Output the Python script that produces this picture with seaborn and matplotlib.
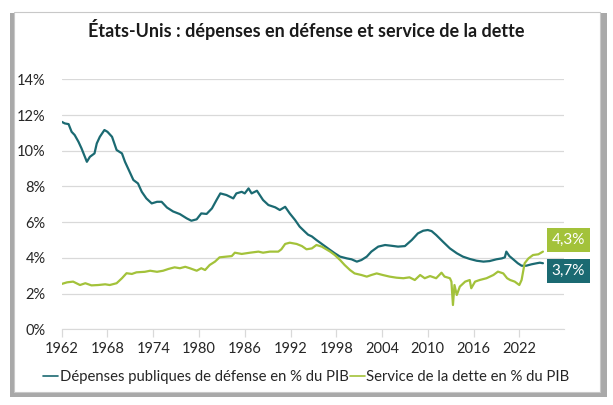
import numpy as np
import pandas as pd
import matplotlib.pyplot as plt
import matplotlib as mpl
import seaborn as sns
from matplotlib.patches import Rectangle

sns.set_style('white')
mpl.rcParams['font.family'] = ['Lato', 'DejaVu Sans']

# valeurs (% du PIB)
defense_years = [1962.0, 1962.4, 1962.9, 1963.3, 1963.7, 1964.2, 1964.6, 1965.3, 1965.7, 1966.3,
                 1966.6, 1967.0, 1967.6, 1968.0, 1968.6, 1969.2, 1969.9, 1970.3, 1970.7, 1971.4,
                 1972.0, 1972.5, 1973.1, 1973.8, 1974.5, 1975.1, 1975.8, 1976.6, 1977.5, 1978.4,
                 1979.0, 1979.7, 1980.3, 1981.0, 1981.7, 1982.3, 1982.8, 1983.6, 1984.5, 1984.9,
                 1985.6, 1986.0, 1986.5, 1986.9, 1987.6, 1988.4, 1989.1, 1990.0, 1990.6, 1991.3,
                 1991.9, 1992.6, 1993.2, 1993.9, 1994.3, 1994.8, 1995.4, 1996.3, 1997.2, 1997.8,
                 1998.5, 1999.4, 2000.0, 2000.7, 2001.3, 2002.0, 2002.6, 2003.5, 2004.4, 2005.2,
                 2006.1, 2007.0, 2007.9, 2008.7, 2009.4, 2010.0, 2010.5, 2011.1, 2012.0, 2012.9,
                 2013.8, 2014.6, 2015.5, 2016.4, 2017.3, 2018.1, 2019.0, 2019.7, 2020.1, 2020.3,
                 2020.7, 2021.2, 2021.8, 2022.3, 2022.9, 2023.6, 2024.3, 2024.7, 2025.1]
defense = [11.62, 11.53, 11.49, 11.06, 10.88, 10.5, 10.13, 9.38, 9.66, 9.85,
           10.41, 10.78, 11.16, 11.06, 10.78, 10.04, 9.85, 9.38, 9.01, 8.36,
           8.17, 7.7, 7.33, 7.05, 7.14, 7.14, 6.82, 6.6, 6.45, 6.21,
           6.08, 6.16, 6.49, 6.46, 6.77, 7.24, 7.61, 7.52, 7.33, 7.61,
           7.7, 7.61, 7.89, 7.61, 7.76, 7.24, 6.96, 6.83, 6.68, 6.86,
           6.49, 6.12, 5.75, 5.46, 5.3, 5.2, 5.0, 4.72, 4.44, 4.26,
           4.07, 3.97, 3.92, 3.79, 3.88, 4.07, 4.35, 4.63, 4.72, 4.68,
           4.63, 4.66, 5.0, 5.37, 5.52, 5.56, 5.5, 5.28, 4.9, 4.53,
           4.26, 4.07, 3.94, 3.84, 3.79, 3.82, 3.92, 3.97, 4.03, 4.35,
           4.1, 3.92, 3.7, 3.56, 3.56, 3.64, 3.7, 3.73, 3.7]

debt_years = [1962.0, 1962.7, 1963.5, 1964.4, 1965.1, 1965.9, 1966.8, 1967.7, 1968.3, 1969.2,
              1969.9, 1970.5, 1971.2, 1971.8, 1972.9, 1973.6, 1974.5, 1975.3, 1976.0, 1976.8,
              1977.5, 1978.2, 1978.8, 1979.7, 1980.3, 1980.8, 1981.4, 1982.1, 1982.7, 1983.6,
              1984.3, 1984.7, 1985.6, 1986.7, 1987.8, 1988.4, 1989.3, 1990.4, 1990.8, 1991.3,
              1991.9, 1992.8, 1993.5, 1994.1, 1994.8, 1995.4, 1996.1, 1997.2, 1997.8, 1998.5,
              1999.1, 1999.8, 2000.4, 2001.3, 2002.0, 2002.6, 2003.3, 2004.1, 2005.0, 2005.9,
              2006.8, 2007.6, 2008.3, 2009.0, 2009.6, 2010.3, 2011.1, 2011.8, 2012.2, 2012.9,
              2013.1, 2013.3, 2013.5, 2013.8, 2014.2, 2014.9, 2015.5, 2015.7, 2016.2, 2016.8,
              2017.7, 2018.6, 2019.2, 2019.9, 2020.4, 2020.8, 2021.4, 2022.0, 2022.3, 2022.7,
              2023.2, 2023.8, 2024.5, 2025.1]
debt = [2.54, 2.63, 2.67, 2.48, 2.58, 2.46, 2.48, 2.52, 2.48, 2.58,
        2.86, 3.14, 3.1, 3.19, 3.22, 3.28, 3.22, 3.28, 3.38, 3.47,
        3.42, 3.5, 3.42, 3.28, 3.42, 3.32, 3.6, 3.79, 4.03, 4.07,
        4.1, 4.29, 4.22, 4.29, 4.35, 4.29, 4.35, 4.35, 4.48, 4.78,
        4.85, 4.78, 4.66, 4.48, 4.53, 4.72, 4.63, 4.35, 4.16, 3.88,
        3.6, 3.32, 3.13, 3.04, 2.95, 3.04, 3.13, 3.04, 2.95, 2.89,
        2.86, 2.91, 2.76, 3.04, 2.86, 2.98, 2.86, 3.17, 2.95, 2.86,
        2.67, 1.36, 2.48, 1.92, 2.39, 2.67, 2.76, 2.3, 2.67, 2.76,
        2.86, 3.04, 3.23, 3.13, 2.86, 2.76, 2.67, 2.48, 2.76, 3.7,
        3.97, 4.16, 4.2, 4.35]

labels = ['Dépenses publiques de défense en % du PIB', 'Service de la dette en % du PIB']
colors = ['#1b6a72', '#a3c23a']
xticks = list(range(1962, 2023, 6))
last_labels = ['3,7%', '4,3%']

df = pd.concat([
    pd.DataFrame({'annee': defense_years, 'val': defense, 'serie': labels[0]}),
    pd.DataFrame({'annee': debt_years, 'val': debt, 'serie': labels[1]}),
])

fig = plt.figure(figsize=(6.13, 4.05), dpi=100)
# cadre avec ombre
fig.patches.append(Rectangle((10/613, 8/405), 597/613, 384/405, transform=fig.transFigure,
                             facecolor='#a9a9a9', edgecolor='none', zorder=-3))
fig.patches.append(Rectangle((14/613, 13/405), 586/613, 380/405, transform=fig.transFigure,
                             facecolor='white', edgecolor='#c8c8c8', lw=0.8, zorder=-2))

ax = fig.add_axes([61.7/613, 75.7/405, (564.3-61.7)/613, 250/405])
ax.set_facecolor('none')
sns.lineplot(data=df, x='annee', y='val', hue='serie', palette=colors, linewidth=1.6,
             sort=False, estimator=None, ax=ax)

ax.set_xlim(1962, 2027.9)
ax.set_ylim(0, 14)
ax.set_yticks(range(0, 15, 2))
ax.set_yticklabels([f'{v}%' for v in range(0, 15, 2)])
ax.set_xticks(xticks)
ax.set_xticklabels([str(x) for x in xticks])
ax.yaxis.grid(True, color='#d9d9d9', lw=0.9)
ax.set_axisbelow(True)
for s in ['top', 'right', 'left']:
    ax.spines[s].set_visible(False)
ax.spines['bottom'].set_color('#d9d9d9')
ax.tick_params(axis='x', bottom=True, length=6, width=0.9, color='#d9d9d9',
               labelsize=10.5, labelcolor='#262626', pad=3)
ax.tick_params(axis='y', left=False, labelsize=10.5, labelcolor='#262626', pad=8)
ax.set_xlabel('')
ax.set_ylabel('')

# étiquettes de fin
ax.text(2028.4, 5.0, last_labels[1], color='white', fontsize=11, ha='center', va='center',
        clip_on=False, bbox=dict(boxstyle='square,pad=0.32', fc=colors[1], ec='none'))
ax.text(2028.4, 3.25, last_labels[0], color='white', fontsize=11, ha='center', va='center',
        clip_on=False, bbox=dict(boxstyle='square,pad=0.32', fc=colors[0], ec='none'))

ax.legend(loc='center', bbox_to_anchor=(0.5, 28/405), bbox_transform=fig.transFigure,
          ncol=2, frameon=False, fontsize=10.7, handlelength=1.0, handletextpad=0.1,
          columnspacing=0.1, labelcolor='#262626')
for line in ax.get_legend().get_lines():
    line.set_linewidth(1.2)

fig.text(0.5, 1 - 30/405, 'États-Unis : dépenses en défense et service de la dette',
         ha='center', va='center', fontsize=13, fontweight='bold', color='#1a1a1a')

fig.savefig('out.png', dpi=100)
